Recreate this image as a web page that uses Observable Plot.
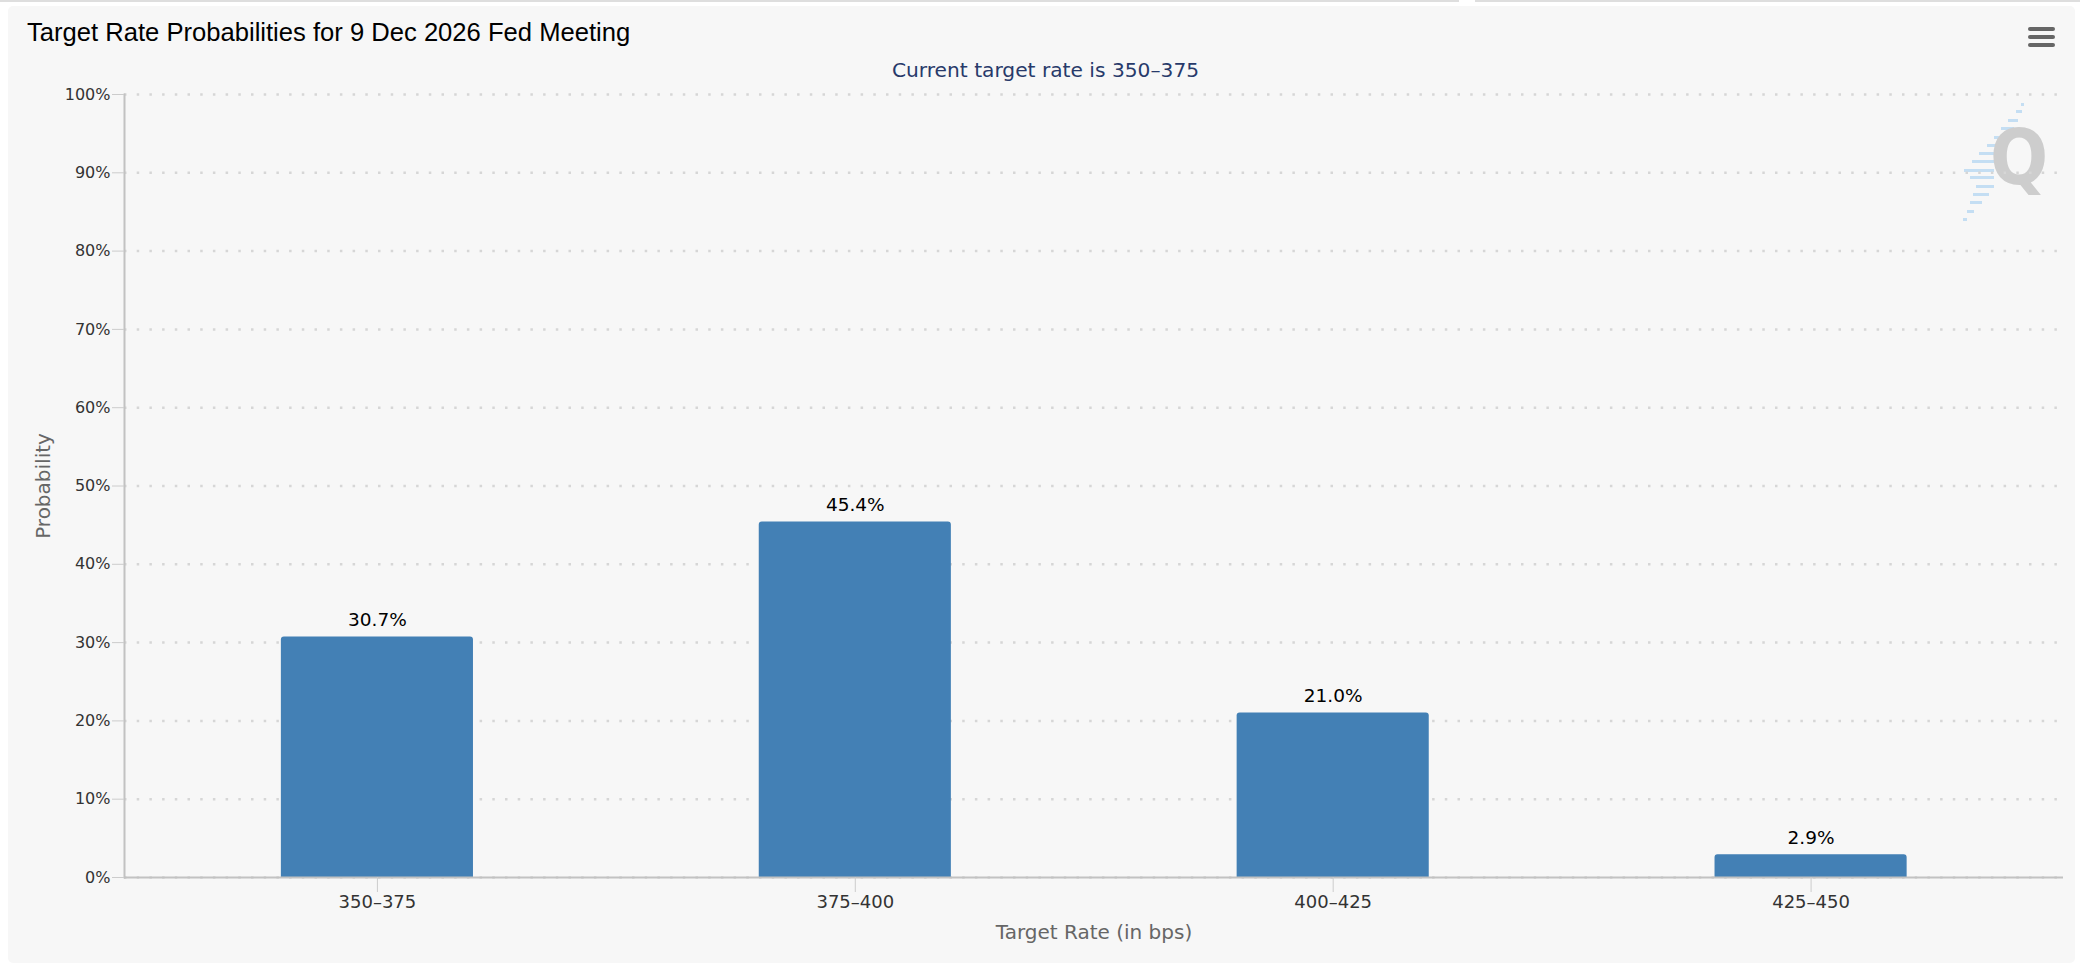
<!DOCTYPE html>
<html>
<head>
<meta charset="utf-8">
<script src="https://cdn.jsdelivr.net/npm/d3@7"></script>
<script src="https://cdn.jsdelivr.net/npm/@observablehq/plot@0.6"></script>
<style>
  html, body { margin: 0; padding: 0; background: #ffffff; }
  #page { position: relative; width: 2080px; height: 968px; overflow: hidden; background: #ffffff; }
  #topline { position: absolute; left: 0; top: 0; width: 2080px; height: 2px; background: #dedede; }
  #topgap { position: absolute; left: 1459px; top: 0; width: 16px; height: 2px; background: #ffffff; }
  #panel { position: absolute; left: 8px; top: 6px; width: 2067px; height: 957px; background: #f7f7f7; border-radius: 5px; }
  #title { position: absolute; left: 27px; top: 20px; font-family: "Liberation Sans", Arial, sans-serif; font-size: 25.6px; line-height: 25px; color: #000; white-space: nowrap; }
  #subtitle { position: absolute; left: 12px; width: 2067px; top: 60px; text-align: center; font-family: "DejaVu Sans", sans-serif; font-size: 20.2px; line-height: 20px; color: #283a6a; white-space: nowrap; }
  #chart { position: absolute; left: 0; top: 84px; }
  #menu { position: absolute; left: 2028px; top: 27px; width: 27px; }
  #menu div { height: 4px; border-radius: 2px; background: #666; margin-bottom: 4px; }
  #logoq { position: absolute; left: 1990px; top: 120px; font-family: "DejaVu Sans Condensed", "DejaVu Sans", sans-serif; font-weight: bold; font-size: 76px; line-height: 76px; color: #cdcdcd; }
  .dash { position: absolute; height: 2.5px; background: #c4def3; }
</style>
</head>
<body>
<div id="page">
  <div id="topline"></div>
  <div id="topgap"></div>
  <div id="panel"></div>
  <div id="deco"></div>
  <div id="logoq">Q</div>
  <div id="title">Target Rate Probabilities for 9 Dec 2026 Fed Meeting</div>
  <div id="subtitle">Current target rate is 350–375</div>
  <div id="menu"><div></div><div></div><div></div></div>
  <div id="chart"></div>
</div>
<script>
// ---- chart data ----
const categories = ["350–375", "375–400", "400–425", "425–450"];
const probabilities = [30.7, 45.4, 21.0, 2.9];
const yTicks = [0, 10, 20, 30, 40, 50, 60, 70, 80, 90, 100];
const yTickLabels = ["0%", "10%", "20%", "30%", "40%", "50%", "60%", "70%", "80%", "90%", "100%"];
const yLabel = "Probability";
const xLabel = "Target Rate (in bps)";

const data = categories.map((c, i) => ({range: c, prob: probabilities[i]}));

// ---- watermark decoration (light blue dashes of the logo) ----
const logoDashes = [
  [103, 2021, 2024], [110, 2016, 2022], [119, 2008, 2018], [127, 2001, 2014],
  [136, 1994, 2007], [144, 1987, 1999], [152, 1979, 1994], [160, 1972, 1994],
  [169, 1964, 1994], [176, 1970, 1994], [185, 1976, 1994], [193, 1973, 1989],
  [201, 1970, 1982], [210, 1967, 1974], [218, 1963, 1967]
];
const deco = document.getElementById("deco");
for (const [y, a, b] of logoDashes) {
  const d = document.createElement("div");
  d.className = "dash";
  d.style.left = a + "px"; d.style.top = y + "px"; d.style.width = (b - a) + "px";
  deco.appendChild(d);
}

const chart = Plot.plot({
  width: 2080,
  height: 884,
  marginTop: 10,
  marginBottom: 91,
  marginLeft: 124,
  marginRight: 17,
  style: {background: "transparent", fontFamily: "DejaVu Sans, sans-serif", overflow: "visible"},
  x: {domain: categories, range: [137.5, 2050], paddingInner: 0.598, paddingOuter: 0.3, round: false},
  y: {domain: [0, 100]},
  marks: [
    Plot.gridY(yTicks, {stroke: "#d6d6d6", strokeOpacity: 1, strokeWidth: 2.5, strokeDasharray: "2.5 10.2"}),
    Plot.barY(data, {x: "range", y: "prob", fill: "#4380b5", ry1: 3}),
    Plot.ruleY([0], {stroke: "#c2c2c2", strokeWidth: 2}),
    Plot.frame({anchor: "left", stroke: "#c2c2c2", strokeWidth: 2}),
    Plot.axisY(yTicks, {tickSize: 12, tickPadding: 2, tickFormat: d => yTickLabels[yTicks.indexOf(d)], fontSize: 16, fill: "#333", stroke: "#cccccc", label: null}),
    Plot.axisX({tickSize: 15, tickPadding: 3, fontSize: 18, fill: "#333", stroke: "#cccccc", label: null}),
    Plot.text(data, {x: "range", y: "prob", text: d => d.prob.toFixed(1) + "%", dy: -11, lineAnchor: "bottom", fontSize: 18.5, fill: "#000"}),
    Plot.text([yLabel], {frameAnchor: "left", dx: -81, rotate: -90, textAnchor: "middle", fontSize: 20, fill: "#666"}),
    Plot.text([xLabel], {frameAnchor: "bottom", dy: 61, lineAnchor: "bottom", fontSize: 20, fill: "#666"})
  ]
});
document.getElementById("chart").appendChild(chart);
</script>
</body>
</html>
